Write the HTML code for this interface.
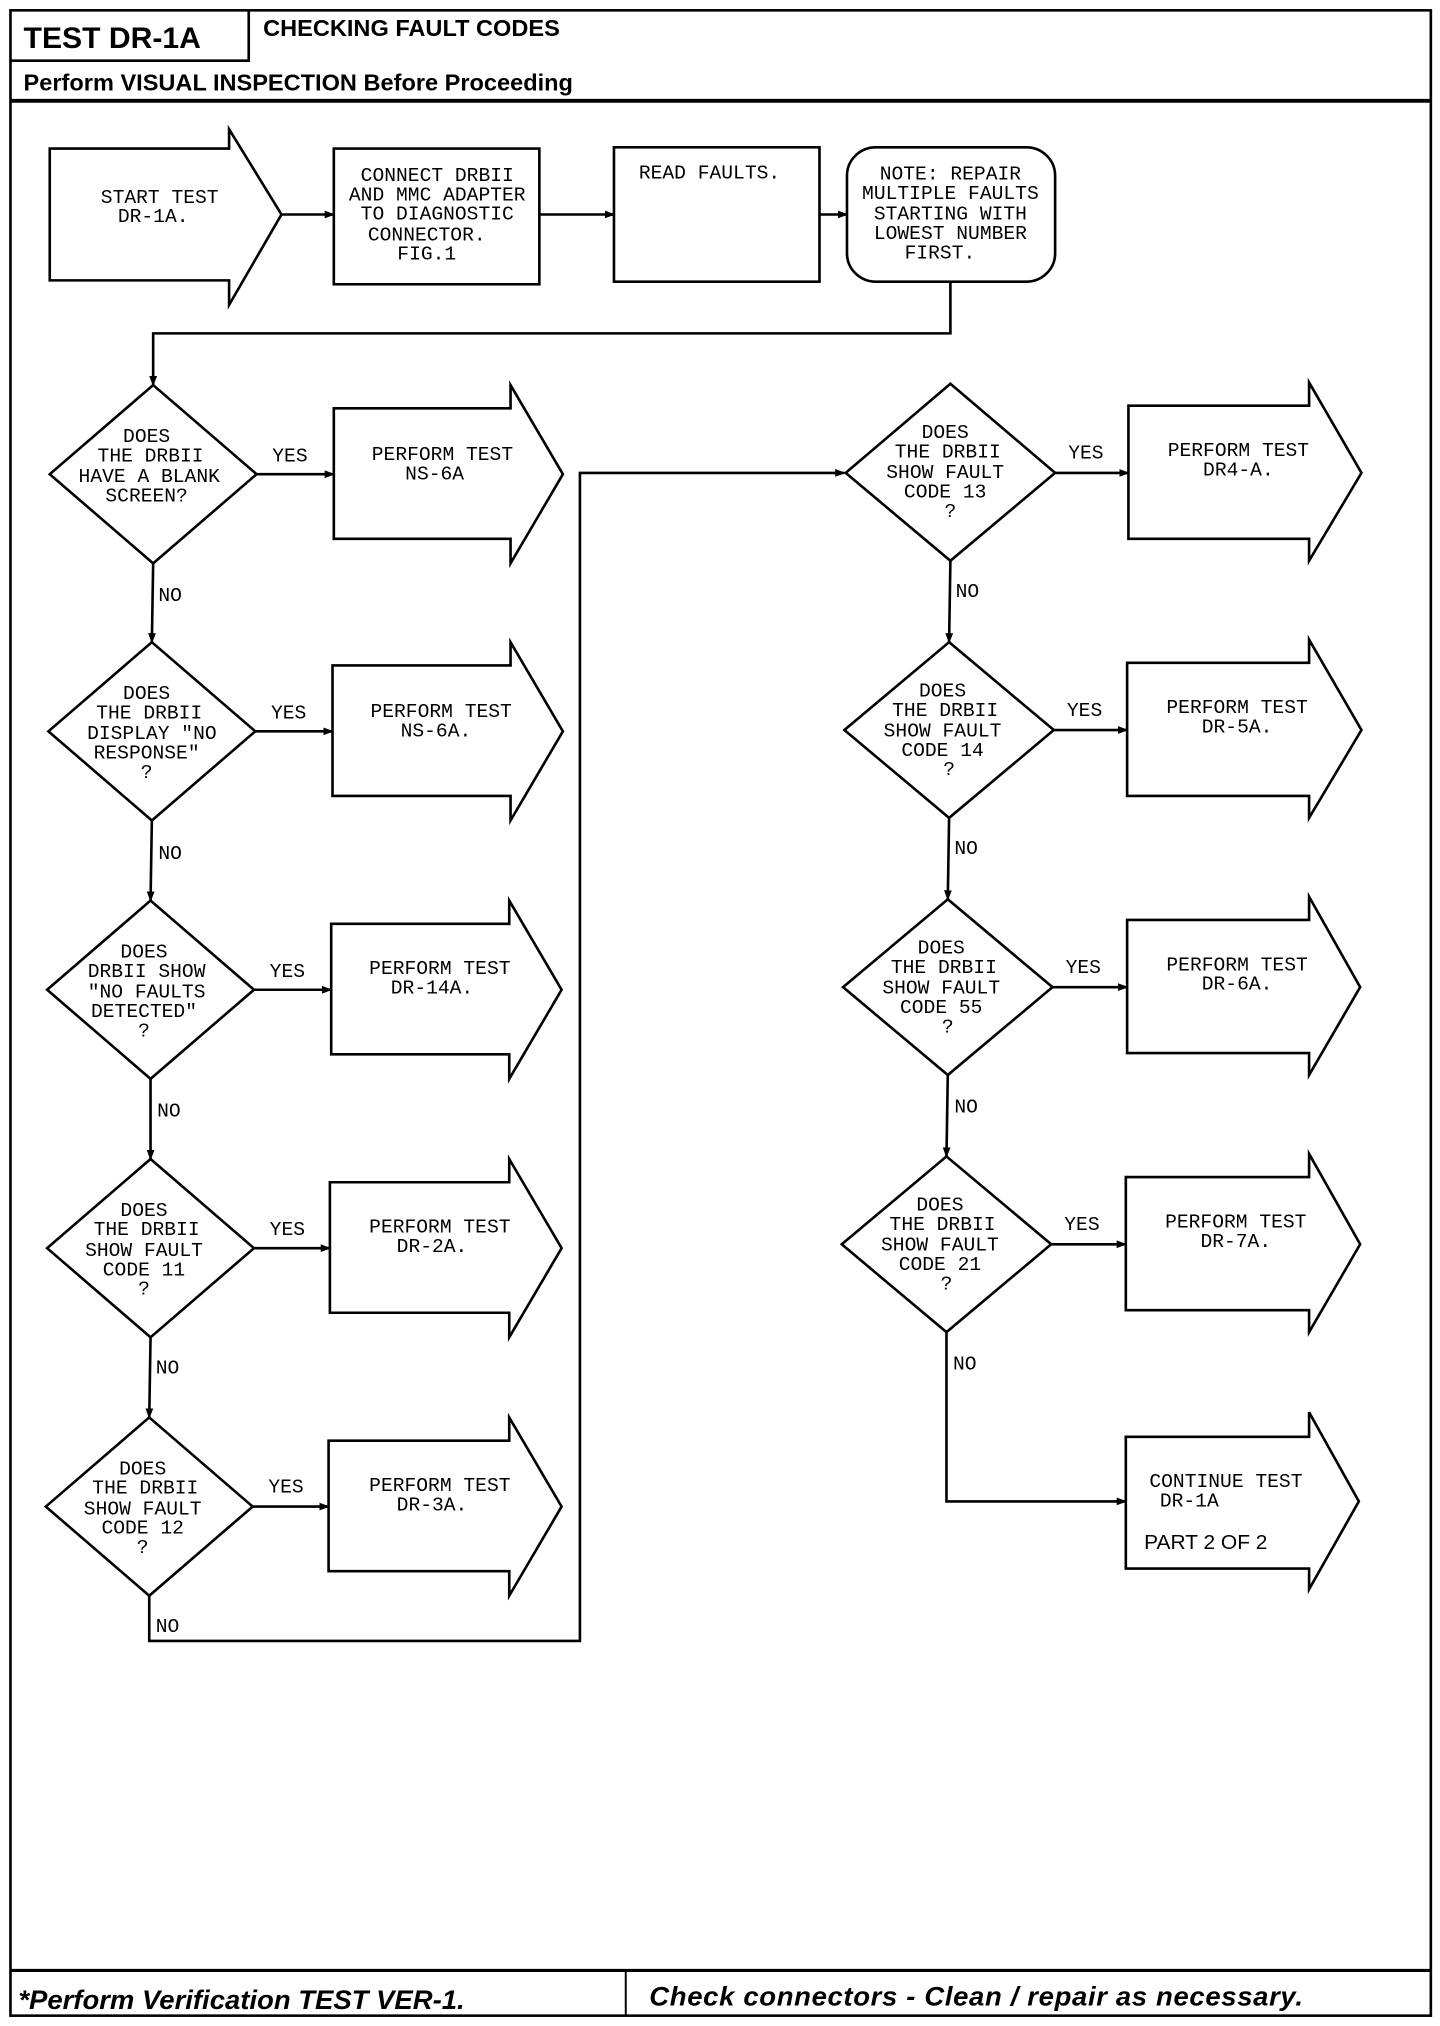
<!DOCTYPE html>
<html><head><meta charset="utf-8"><style>
html,body{margin:0;padding:0;background:#fff;}
svg{display:block}
.m{font-family:"Liberation Mono",monospace;font-size:15px;fill:#000;text-anchor:middle}
.ml{font-family:"Liberation Mono",monospace;font-size:15px;fill:#000}
.h{font-family:"Liberation Sans",sans-serif;font-weight:bold;fill:#000}
</style></head><body>
<svg width="1440" height="2026" viewBox="0 0 1100 1568" preserveAspectRatio="none" xmlns="http://www.w3.org/2000/svg">
<defs><marker id="a" markerWidth="8" markerHeight="8" refX="7" refY="4" orient="auto" markerUnits="userSpaceOnUse"><path d="M0,1 L8,4 L0,7 z" fill="#000"/></marker></defs>
<g fill="none" stroke="#000" stroke-width="2">
<rect x="8" y="8" width="1085" height="1552"/>
<polyline points="8,47 190,47 190,8"/>
<line x1="8" y1="78" x2="1093" y2="78" stroke-width="3"/>
<line x1="8" y1="1525" x2="1093" y2="1525" stroke-width="2.5"/>
<line x1="478" y1="1525" x2="478" y2="1560" stroke-width="1.5"/>
<polygon points="38,115 175,115 175,100 215,166 175,236 175,217 38,217"/>
<rect x="255" y="115" width="157" height="105"/>
<rect x="469" y="114" width="157" height="104"/>
<rect x="647" y="114" width="159" height="104" rx="22"/>
<line x1="215" y1="166" x2="255" y2="166" marker-end="url(#a)"/>
<line x1="412" y1="166" x2="469" y2="166" marker-end="url(#a)"/>
<line x1="626" y1="166" x2="647" y2="166" marker-end="url(#a)"/>
<polyline points="726,218 726,258 117,258 117,298" marker-end="url(#a)"/>
<polygon points="117,298 196,367 117,436 38,367"/>
<polygon points="116,497 195,566 116,635 37,566"/>
<polygon points="115,697 194,766 115,835 36,766"/>
<polygon points="115,897 194,966 115,1035 36,966"/>
<polygon points="114,1097 193,1166 114,1235 35,1166"/>
<line x1="117" y1="436" x2="116" y2="497" marker-end="url(#a)"/>
<line x1="116" y1="635" x2="115" y2="697" marker-end="url(#a)"/>
<line x1="115" y1="835" x2="115" y2="897" marker-end="url(#a)"/>
<line x1="115" y1="1035" x2="114" y2="1097" marker-end="url(#a)"/>
<polyline points="114,1235 114,1270 443,1270 443,366 645,366" marker-end="url(#a)"/>
<line x1="196" y1="367" x2="255" y2="367" marker-end="url(#a)"/>
<line x1="195" y1="566" x2="254" y2="566" marker-end="url(#a)"/>
<line x1="194" y1="766" x2="253" y2="766" marker-end="url(#a)"/>
<line x1="194" y1="966" x2="252" y2="966" marker-end="url(#a)"/>
<line x1="193" y1="1166" x2="251" y2="1166" marker-end="url(#a)"/>
<polygon points="255,316 390,316 390,298 430,367 390,436 390,417 255,417"/>
<polygon points="254,515 390,515 390,497 430,566 390,635 390,616 254,616"/>
<polygon points="253,715 389,715 389,697 429,766 389,835 389,816 253,816"/>
<polygon points="252,915 389,915 389,897 429,966 389,1035 389,1016 252,1016"/>
<polygon points="251,1115 389,1115 389,1097 429,1166 389,1235 389,1216 251,1216"/>
<polygon points="726,297 806,366 726,434 646,366"/>
<polygon points="725,497 805,565 725,633 645,565"/>
<polygon points="724,696 804,764 724,832 644,764"/>
<polygon points="723,895 803,963 723,1031 643,963"/>
<line x1="726" y1="434" x2="725" y2="497" marker-end="url(#a)"/>
<line x1="725" y1="633" x2="724" y2="696" marker-end="url(#a)"/>
<line x1="724" y1="832" x2="723" y2="895" marker-end="url(#a)"/>
<polyline points="723,1031 723,1162 860,1162" marker-end="url(#a)"/>
<line x1="806" y1="366" x2="862" y2="366" marker-end="url(#a)"/>
<line x1="805" y1="565" x2="861" y2="565" marker-end="url(#a)"/>
<line x1="804" y1="764" x2="861" y2="764" marker-end="url(#a)"/>
<line x1="803" y1="963" x2="860" y2="963" marker-end="url(#a)"/>
<polygon points="862,314 1000,314 1000,296 1040,366 1000,434 1000,417 862,417"/>
<polygon points="861,513 1000,513 1000,495 1040,565 1000,633 1000,616 861,616"/>
<polygon points="861,712 1000,712 1000,694 1039,764 1000,832 1000,815 861,815"/>
<polygon points="860,911 1000,911 1000,893 1039,963 1000,1031 1000,1014 860,1014"/>
<polygon points="860,1112 1000,1112 1000,1093 1038,1162 1000,1230 1000,1214 860,1214"/>
</g>
<text class="h" x="18" y="37" font-size="23">TEST DR-1A</text>
<text class="h" x="201" y="28" font-size="18">CHECKING FAULT CODES</text>
<text class="h" x="18" y="70" font-size="18">Perform VISUAL INSPECTION Before Proceeding</text>
<text class="h" x="14" y="1555" font-size="21" font-style="italic">*Perform Verification TEST VER-1.</text>
<text class="h" x="496" y="1552" font-size="21" font-style="italic" letter-spacing="0.5">Check connectors - Clean / repair as necessary.</text>
<text class="m" x="122" y="157">START TEST</text><text class="m" x="117" y="172">DR-1A.</text>
<text class="m" x="334" y="140">CONNECT DRBII</text><text class="m" x="334" y="155">AND MMC ADAPTER</text><text class="m" x="334" y="170">TO DIAGNOSTIC</text><text class="m" x="326" y="186">CONNECTOR.</text><text class="m" x="326" y="201">FIG.1</text>
<text class="ml" x="488" y="138">READ FAULTS.</text>
<text class="m" x="726" y="139">NOTE: REPAIR</text><text class="m" x="726" y="154">MULTIPLE FAULTS</text><text class="m" x="726" y="170">STARTING WITH</text><text class="m" x="726" y="185">LOWEST NUMBER</text><text class="m" x="718" y="200">FIRST.</text>
<text class="m" x="112" y="342">DOES</text><text class="m" x="115" y="357">THE DRBII</text><text class="m" x="114" y="373">HAVE A BLANK</text><text class="m" x="112" y="388">SCREEN?</text>
<text class="m" x="112" y="541">DOES</text><text class="m" x="114" y="556">THE DRBII</text><text class="m" x="116" y="572">DISPLAY "NO</text><text class="m" x="112" y="587">RESPONSE"</text><text class="m" x="112" y="602">?</text>
<text class="m" x="110" y="741">DOES</text><text class="m" x="112" y="756">DRBII SHOW</text><text class="m" x="112" y="772">"NO FAULTS</text><text class="m" x="110" y="787">DETECTED"</text><text class="m" x="110" y="802">?</text>
<text class="m" x="110" y="941">DOES</text><text class="m" x="112" y="956">THE DRBII</text><text class="m" x="110" y="972">SHOW FAULT</text><text class="m" x="110" y="987">CODE 11</text><text class="m" x="110" y="1002">?</text>
<text class="m" x="109" y="1141">DOES</text><text class="m" x="111" y="1156">THE DRBII</text><text class="m" x="109" y="1172">SHOW FAULT</text><text class="m" x="109" y="1187">CODE 12</text><text class="m" x="109" y="1202">?</text>
<text class="ml" x="121" y="465">NO</text><text class="ml" x="121" y="665">NO</text><text class="ml" x="120" y="864">NO</text><text class="ml" x="119" y="1063">NO</text><text class="ml" x="119" y="1263">NO</text>
<text class="ml" x="208" y="357">YES</text><text class="ml" x="207" y="556">YES</text><text class="ml" x="206" y="756">YES</text><text class="ml" x="206" y="956">YES</text><text class="ml" x="205" y="1155">YES</text>
<text class="m" x="338" y="356">PERFORM TEST</text><text class="m" x="332" y="371">NS-6A</text>
<text class="m" x="337" y="555">PERFORM TEST</text><text class="m" x="333" y="570">NS-6A.</text>
<text class="m" x="336" y="754">PERFORM TEST</text><text class="m" x="330" y="769">DR-14A.</text>
<text class="m" x="336" y="954">PERFORM TEST</text><text class="m" x="330" y="969">DR-2A.</text>
<text class="m" x="336" y="1154">PERFORM TEST</text><text class="m" x="330" y="1169">DR-3A.</text>
<text class="m" x="722" y="339">DOES</text><text class="m" x="724" y="354">THE DRBII</text><text class="m" x="722" y="370">SHOW FAULT</text><text class="m" x="722" y="385">CODE 13</text><text class="m" x="726" y="400">?</text>
<text class="m" x="720" y="539">DOES</text><text class="m" x="722" y="554">THE DRBII</text><text class="m" x="720" y="570">SHOW FAULT</text><text class="m" x="720" y="585">CODE 14</text><text class="m" x="725" y="600">?</text>
<text class="m" x="719" y="738">DOES</text><text class="m" x="721" y="753">THE DRBII</text><text class="m" x="719" y="769">SHOW FAULT</text><text class="m" x="719" y="784">CODE 55</text><text class="m" x="724" y="799">?</text>
<text class="m" x="718" y="937">DOES</text><text class="m" x="720" y="952">THE DRBII</text><text class="m" x="718" y="968">SHOW FAULT</text><text class="m" x="718" y="983">CODE 21</text><text class="m" x="723" y="998">?</text>
<text class="ml" x="730" y="462">NO</text><text class="ml" x="729" y="661">NO</text><text class="ml" x="729" y="861">NO</text><text class="ml" x="728" y="1060">NO</text>
<text class="ml" x="816" y="355">YES</text><text class="ml" x="815" y="554">YES</text><text class="ml" x="814" y="753">YES</text><text class="ml" x="813" y="952">YES</text>
<text class="m" x="946" y="353">PERFORM TEST</text><text class="m" x="946" y="368">DR4-A.</text>
<text class="m" x="945" y="552">PERFORM TEST</text><text class="m" x="945" y="567">DR-5A.</text>
<text class="m" x="945" y="751">PERFORM TEST</text><text class="m" x="945" y="766">DR-6A.</text>
<text class="m" x="944" y="950">PERFORM TEST</text><text class="m" x="944" y="965">DR-7A.</text>
<text class="ml" x="878" y="1151">CONTINUE TEST</text><text class="ml" x="886" y="1166">DR-1A</text>
<text class="h" x="874" y="1199" font-size="16" style="font-weight:normal">PART   2 OF 2</text>
</svg>
</body></html>
